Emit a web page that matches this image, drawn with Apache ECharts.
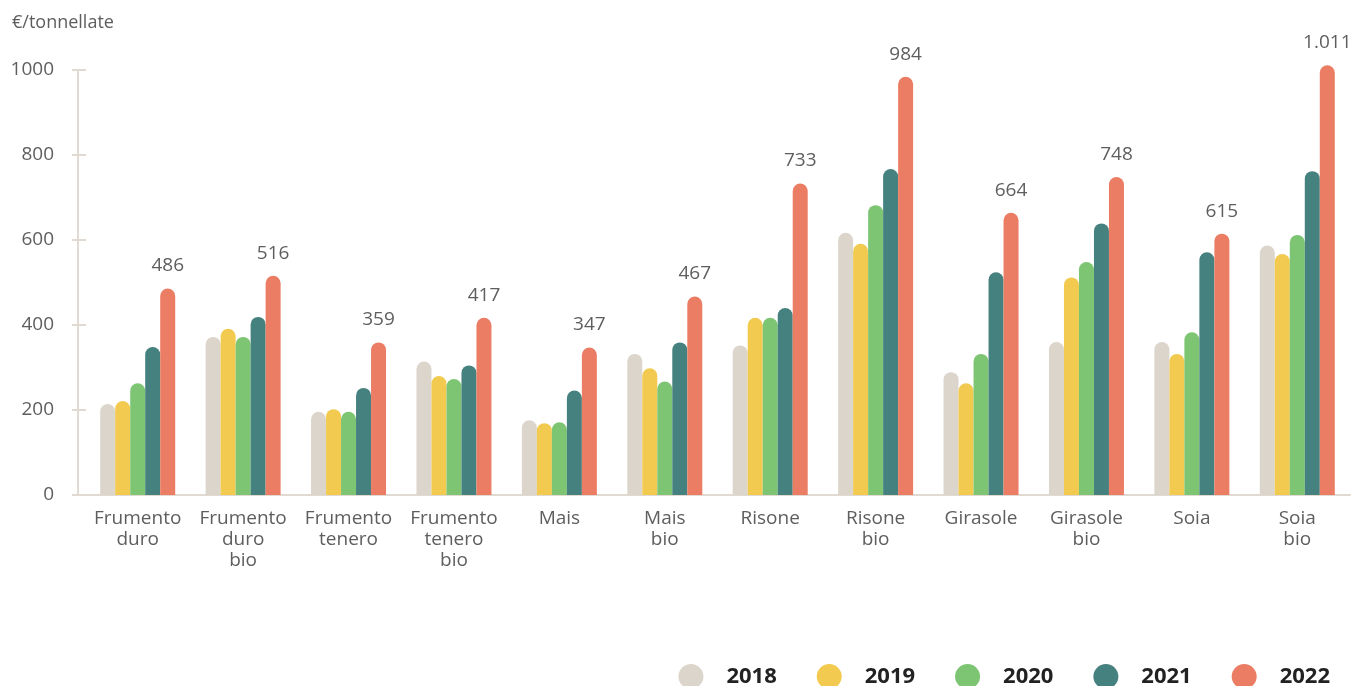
<!DOCTYPE html>
<html>
<head>
<meta charset="utf-8">
<script src="https://cdn.jsdelivr.net/npm/echarts@6/dist/echarts.min.js"></script>
<style>
  html, body { margin: 0; padding: 0; background: #fff; }
  #chart { width: 1354px; height: 686px; }
</style>
</head>
<body>
<div id="chart"></div>
<script>
// Prezzi medi per coltura, €/tonnellata
const categories = [
  'Frumento\nduro', 'Frumento\nduro\nbio', 'Frumento\ntenero', 'Frumento\ntenero\nbio',
  'Mais', 'Mais\nbio', 'Risone', 'Risone\nbio', 'Girasole', 'Girasole\nbio', 'Soia', 'Soia\nbio'
];
const years = ['2018', '2019', '2020', '2021', '2022'];
const v2018 = [214, 372, 196, 314, 176, 332, 352, 617, 289, 360, 360, 587];
const v2019 = [221, 391, 202, 280, 169, 298, 417, 591, 263, 512, 332, 567];
const v2020 = [263, 372, 196, 273, 171, 267, 417, 682, 332, 548, 383, 612];
const v2021 = [348, 419, 252, 305, 246, 359, 440, 767, 524, 639, 571, 762];
const v2022 = [486, 516, 359, 417, 347, 467, 733, 984, 664, 748, 615, 1011];
const yTicks = [0, 200, 400, 600, 800, 1000];

const colors = ['#dbd5cc', '#f2ca50', '#7dc573', '#45817e', '#ec7d65'];
const seriesValues = [v2018, v2019, v2020, v2021, v2022];

const FONT = '"Open Sans", "Noto Sans", sans-serif';
const axisColor = '#e0dad2';
const textGray = '#5e5e5e';

// numeri in formato italiano (1.011)
function itNumber(v) {
  return String(v).replace(/\B(?=(\d{3})+(?!\d))/g, '.');
}

const series = years.map((y, i) => ({
  name: y,
  type: 'bar',
  data: seriesValues[i],
  barWidth: 15,
  barGap: '0%',
  clip: false,
  itemStyle: { color: colors[i], borderRadius: [7.5, 7.5, 0, 0] },
  label: i === years.length - 1 ? {
    show: true,
    position: 'top',
    distance: 13,
    color: textGray,
    fontFamily: FONT,
    fontSize: 19,
    formatter: p => itNumber(p.value)
  } : { show: false }
}));

const chart = echarts.init(document.getElementById('chart'), null, { renderer: 'canvas' });
chart.setOption({
  animation: false,
  color: colors,
  title: {
    text: '€/tonnellate',
    left: 7,
    top: 9,
    textStyle: { color: textGray, fontFamily: FONT, fontSize: 18, fontWeight: 'normal' }
  },
  legend: {
    data: years,
    right: 19,
    top: 659,
    icon: 'circle',
    itemWidth: 25,
    itemHeight: 27,
    itemGap: 40,
    textStyle: { color: '#222', fontFamily: FONT, fontSize: 22, fontWeight: 'bold', padding: [4, 0, 0, 18] }
  },
  grid: { left: 85, right: 4, top: 70, bottom: 191, containLabel: false },
  xAxis: {
    type: 'category',
    data: categories,
    axisLine: { show: true, lineStyle: { color: axisColor, width: 2 } },
    axisTick: { show: false },
    axisLabel: {
      color: textGray,
      fontFamily: FONT,
      fontSize: 19,
      lineHeight: 21,
      margin: 13,
      interval: 0
    }
  },
  yAxis: [{
    type: 'value',
    min: yTicks[0],
    max: yTicks[yTicks.length - 1],
    interval: 200,
    offset: 7,
    axisLine: { show: true, lineStyle: { color: axisColor, width: 2 } },
    axisTick: { show: true, length: 6, lineStyle: { color: axisColor, width: 2 } },
    splitLine: { show: false },
    axisLabel: { color: textGray, fontFamily: FONT, fontSize: 19, margin: 24, formatter: v => String(v) }
  }, {
    type: 'value',
    position: 'left',
    min: yTicks[0],
    max: yTicks[yTicks.length - 1],
    interval: 200,
    offset: 7,
    axisLine: { show: false },
    axisTick: { show: true, inside: true, length: 8, lineStyle: { color: axisColor, width: 2 } },
    splitLine: { show: false },
    axisLabel: { show: false }
  }],
  series: series
});
</script>
</body>
</html>
